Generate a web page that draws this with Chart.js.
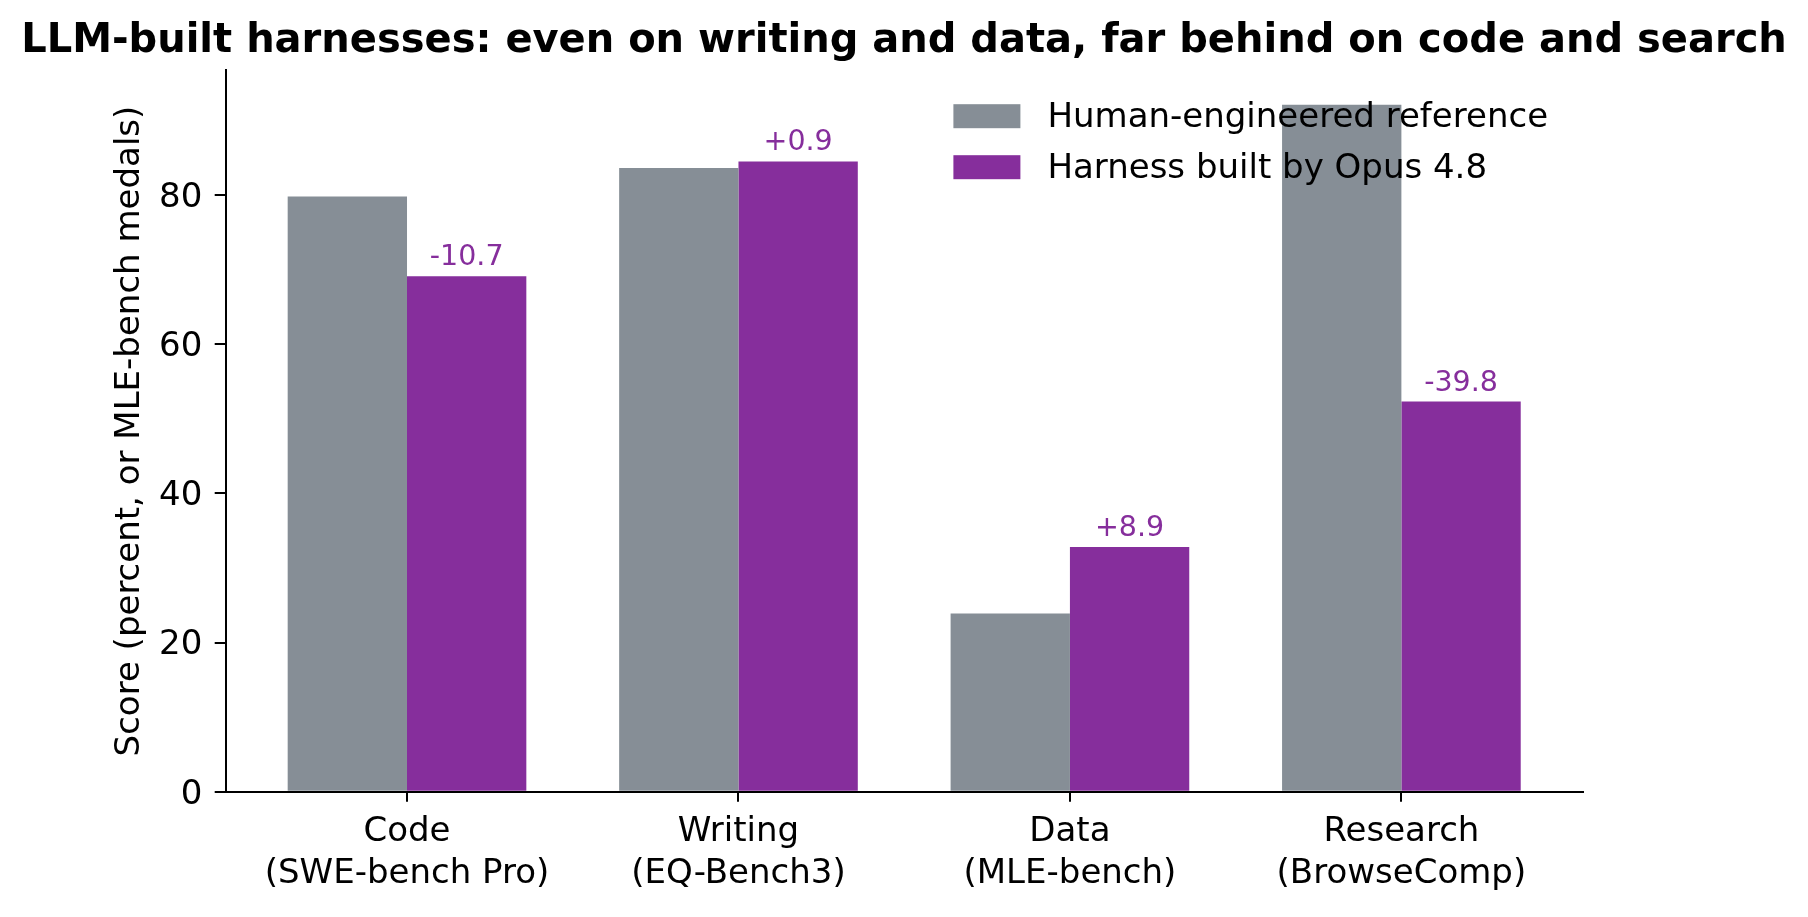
<!DOCTYPE html>
<html>
<head>
<meta charset="utf-8">
<script src="https://cdn.jsdelivr.net/npm/chart.js@4.4.1/dist/chart.umd.min.js"></script>
<style>
  html, body { margin: 0; padding: 0; background: #ffffff; }
  #wrap { width: 1808px; height: 917px; }
</style>
</head>
<body>
<div id="wrap"><canvas id="c" width="1808" height="917"></canvas></div>
<script>
// ---- data ----
const categories = ["Code", "Writing", "Data", "Research"];
const benchmarks = ["(SWE-bench Pro)", "(EQ-Bench3)", "(MLE-bench)", "(BrowseComp)"];
const humanScores = [79.8, 83.6, 23.9, 92.1];
const opusScores = [69.1, 84.5, 32.8, 52.3];
const yTicks = [0, 20, 40, 60, 80];
const seriesNames = ["Human-engineered reference", "Harness built by Opus 4.8"];
const titleText = "LLM-built harnesses: even on writing and data, far behind on code and search";
const yAxisTitle = "Score (percent, or MLE-bench medals)";

// ---- styles ----
const GRAY = "#868E96";
const PURPLE = "#862E9C";
const FONT = "'DejaVu Sans', sans-serif";

const xPositions = categories.map((_, i) => i);
const toPoints = arr => arr.map((v, i) => ({ x: xPositions[i], y: v }));

const deltaPlugin = {
  id: "deltaLabels",
  afterDatasetsDraw(chart) {
    const ctx = chart.ctx;
    const meta = chart.getDatasetMeta(1);
    ctx.save();
    ctx.font = "28.5px " + FONT;
    ctx.fillStyle = PURPLE;
    ctx.textAlign = "center";
    ctx.textBaseline = "alphabetic";
    meta.data.forEach((bar, i) => {
      const d = opusScores[i] - humanScores[i];
      const s = (d >= 0 ? "+" : "-") + Math.abs(d).toFixed(1);
      ctx.fillText(s, bar.x, bar.y - 11);
    });
    ctx.restore();
  }
};

const legendPlugin = {
  id: "customLegend",
  afterDraw(chart) {
    const ctx = chart.ctx;
    const ca = chart.chartArea;
    const x0 = ca.right - 629.3;
    const y0 = ca.top + 33.8;
    ctx.save();
    ctx.font = "34px " + FONT;
    ctx.textAlign = "left";
    ctx.textBaseline = "middle";
    chart.data.datasets.forEach((ds, i) => {
      const y = y0 + i * 51;
      ctx.fillStyle = ds.backgroundColor;
      ctx.fillRect(x0, y, 67, 24);
      ctx.fillStyle = "#000000";
      ctx.fillText(ds.label, x0 + 94, y + 13.5);
    });
    ctx.restore();
  }
};

new Chart(document.getElementById("c"), {
  type: "bar",
  data: {
    datasets: [
      { label: seriesNames[0], data: toPoints(humanScores), backgroundColor: GRAY, borderWidth: 0 },
      { label: seriesNames[1], data: toPoints(opusScores), backgroundColor: PURPLE, borderWidth: 0 }
    ]
  },
  plugins: [deltaPlugin, legendPlugin],
  options: {
    responsive: false,
    animation: false,
    devicePixelRatio: 1,
    categoryPercentage: 0.72,
    barPercentage: 1.0,
    layout: { padding: { left: 0, right: 0, top: 0, bottom: 0 } },
    plugins: {
      legend: { display: false },
      tooltip: { enabled: false },
      title: {
        display: true,
        text: titleText,
        color: "#000000",
        font: { family: FONT, size: 40, weight: "bold", lineHeight: 1.2 },
        padding: { top: 17.9, bottom: 4.5 }
      }
    },
    scales: {
      x: {
        type: "linear",
        min: -0.547,
        max: 3.547,
        offset: false,
        z: 1,
        afterBuildTicks: s => { s.ticks = xPositions.map(v => ({ value: v })); },
        afterFit: s => { s.height = 125.3; },
        grid: { offset: false, drawOnChartArea: false, drawTicks: true, tickLength: 10, color: "#000000", lineWidth: 2 },
        border: { display: true, color: "#000000", width: 2 },
        ticks: {
          color: "#000000",
          padding: 9.3,
          maxRotation: 0,
          autoSkip: false,
          font: { family: FONT, size: 34, lineHeight: 1.244 },
          callback: v => [categories[v], benchmarks[v]]
        }
      },
      y: {
        type: "linear",
        position: "left",
        min: 0,
        max: 96.7,
        z: 1,
        afterBuildTicks: s => { s.ticks = yTicks.map(v => ({ value: v })); },
        afterFit: s => { s.width = 225.7; },
        grid: { drawOnChartArea: false, drawTicks: true, tickLength: 11, color: "#000000", lineWidth: 2 },
        border: { display: true, color: "#000000", width: 2 },
        ticks: {
          color: "#000000",
          padding: 12.4,
          labelOffset: 3,
          font: { family: FONT, size: 34 },
          callback: v => String(v)
        },
        title: {
          display: true,
          text: yAxisTitle,
          color: "#000000",
          font: { family: FONT, size: 34, lineHeight: 1.2 },
          padding: { top: 109.6, bottom: 0 }
        }
      },
      yRight: {
        type: "linear",
        position: "right",
        display: true,
        afterFit: s => { s.width = 225.3; },
        grid: { display: false, drawTicks: false },
        border: { display: false },
        ticks: { display: false }
      }
    }
  }
});
</script>
</body>
</html>
